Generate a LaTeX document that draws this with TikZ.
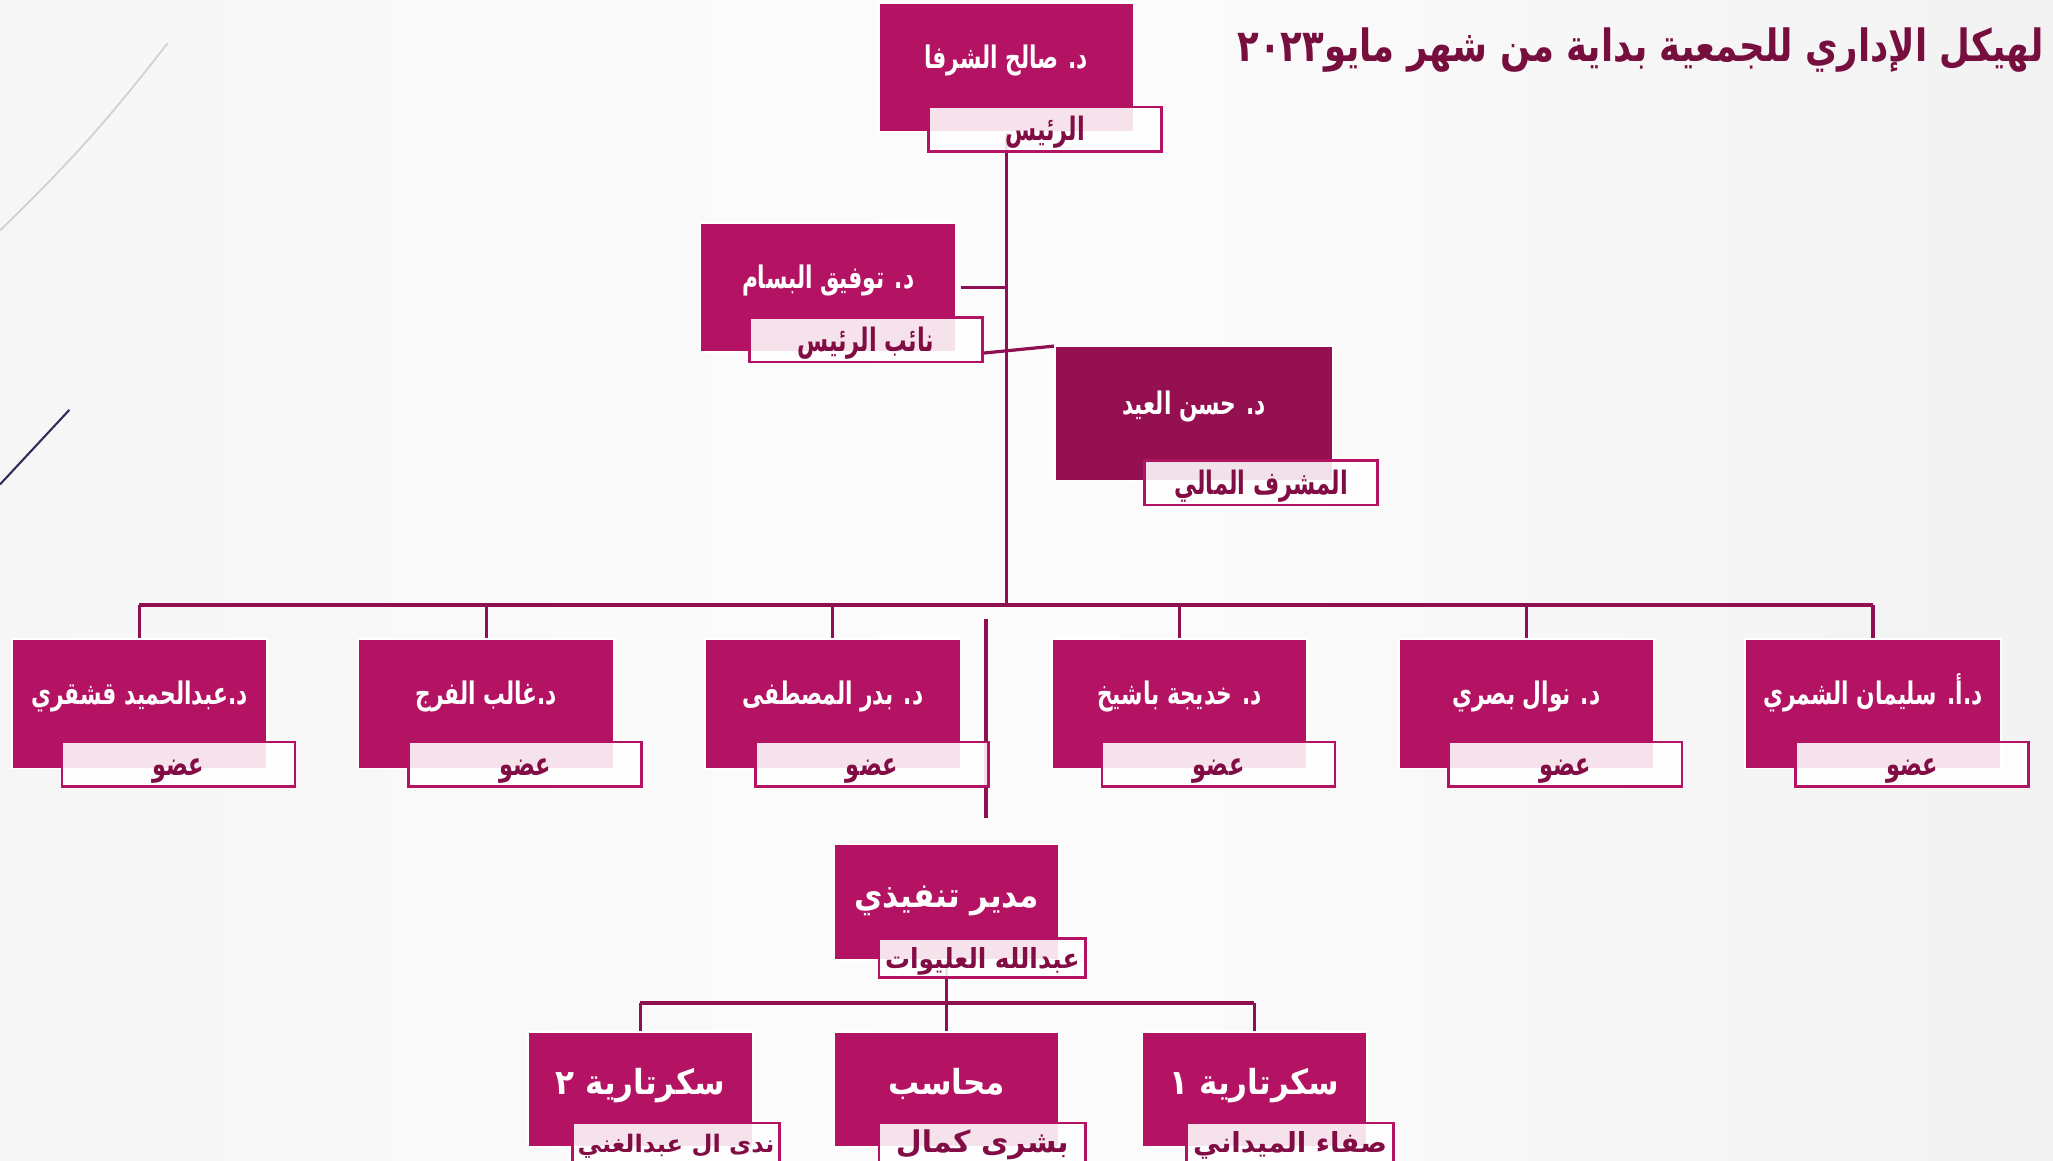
\documentclass[tikz,border=0pt]{standalone}
\usepackage{fontspec}
\newfontfamily\arabicfont[Script=Arabic]{DejaVu Sans}
\newfontfamily\arabicnarrow[Script=Arabic, FakeStretch=0.7]{DejaVu Sans}
\newfontfamily\arabicsemi[Script=Arabic, FakeStretch=0.9]{DejaVu Sans}
\newfontfamily\arabictitle[Script=Arabic, FakeStretch=0.8]{DejaVu Sans}
\TeXXeTstate=1
\usetikzlibrary{calc, backgrounds}

\definecolor{berry}{HTML}{B31362}
\definecolor{plum}{HTML}{941050}
\definecolor{wire}{HTML}{8E1052}
\definecolor{tagink}{HTML}{820C44}
\definecolor{titleink}{HTML}{760E3E}
\definecolor{navy}{RGB}{50,40,90}

\begin{document}
\begin{tikzpicture}[x=0.02cm, y=-0.02cm,
    box/.style={draw=white, line width=0.8pt, fill=berry, text=white, minimum width=3.9cm, minimum height=1.98cm, inner sep=0pt,
        text height=10pt, text depth=9pt, font=\arabicnarrow\bfseries\fontsize{13.5}{15}\selectfont},
    tag/.style={draw=berry, line width=1.1pt, fill=white, fill opacity=0.88, text opacity=1, text=tagink, minimum width=3.56cm,
        minimum height=0.68cm, inner sep=0pt, anchor=north west, text height=12.5pt, text depth=2.5pt,
        font=\arabicnarrow\bfseries\fontsize{14}{16}\selectfont},
    staffbox/.style={box, minimum width=3.44cm, minimum height=1.76cm, text height=11.5pt, text depth=7pt,
        font=\arabicsemi\bfseries\fontsize{15}{17}\selectfont},
    stafftag/.style={tag, minimum width=3.16cm, minimum height=0.6cm, text height=12pt, text depth=3pt,
        font=\arabicsemi\bfseries\fontsize{12}{14}\selectfont},
    wire/.style={draw=wire, line width=1.4pt}]

    % page and background
    \useasboundingbox (0,0) rectangle (1568,886);
    \begin{scope}[on background layer]
        \shade[left color=gray!7, right color=gray!10, middle color=gray!2] (0,0) rectangle (1568,886);
        \draw[gray!35, line width=0.8pt] (128,33) to[bend left=4] (0,176);
        \draw[navy, line width=0.9pt] (53,313) -- (0,370);
    \end{scope}

    % title
    \node[anchor=east, text=titleink, font=\arabictitle\bfseries\fontsize{19.3}{23}\selectfont] (title) at (1567,38)
        {\beginR لهيكل الإداري للجمعية بداية من شهر مايو\beginL٢٠٢٣\endL\endR};

    % board
    \node[box] (pres) at (768.5,51.5) {\beginR د. صالح الشرفا\endR};
    \node[tag] (pres-tag) at ($(pres.south west)+(38,-21)$) {\beginR الرئيس\endR};

    \node[box] (vice) at (632.5,219.5) {\beginR د. توفيق البسام\endR};
    \node[tag] (vice-tag) at ($(vice.south west)+(37,-28)$) {\beginR نائب الرئيس\endR};

    \node[box, fill=plum, minimum width=4.24cm, minimum height=2.06cm] (hassan) at (912,315.5) {\beginR د. حسن العيد\endR};
    \node[tag] (hassan-tag) at ($(hassan.south west)+(68,-17)$) {\beginR المشرف المالي\endR};

    % members
    \foreach \i/\who in {1/{د.عبدالحميد قشقري}, 2/{د.غالب الفرج}, 3/{د. بدر المصطفى},
                         4/{د. خديجة باشيخ}, 5/{د. نوال بصري}, 6/{د.أ. سليمان الشمري}}{
        \node[box] (m\i) at ({106.5+264.8*(\i-1)},537.5) {\beginR\who\endR};
        \node[tag] (m\i-tag) at ($(m\i.south west)+(38,-22)$) {\beginR عضو\endR};
    }

    % executive office
    \node[staffbox] (dir) at (723,689) {\beginR مدير تنفيذي\endR};
    \node[stafftag] (dir-tag) at ($(dir.south west)+(34,-18)$) {\beginR عبدالله العليوات\endR};

    \node[staffbox] (sec2) at (489,832) {\beginR سكرتارية ٢\endR};
    \node[stafftag, font=\arabicfont\bfseries\fontsize{10.5}{12}\selectfont] (sec2-tag) at ($(sec2.south west)+(34,-20)$) {\beginR ندى ال عبدالغني\endR};
    \node[staffbox] (acc) at (723,832) {\beginR محاسب\endR};
    \node[stafftag, font=\arabicfont\bfseries\fontsize{13}{15}\selectfont] (acc-tag) at ($(acc.south west)+(34,-20)$) {\beginR بشرى كمال\endR};
    \node[staffbox] (sec1) at (958,832) {\beginR سكرتارية ١\endR};
    \node[stafftag, font=\arabicfont\bfseries\fontsize{12}{14}\selectfont] (sec1-tag) at ($(sec1.south west)+(34,-20)$) {\beginR صفاء الميداني\endR};

    % connectors
    \coordinate (bus) at (0,462);
    \coordinate (sbus) at (0,766);
    \coordinate (stub-a) at (753,473);
    \coordinate (stub-b) at (753,625);
    \begin{scope}[on background layer]
        \draw[wire] (pres.south) -- (pres.south |- bus);
        \draw[wire] (m1.north |- bus) -- (m6.north |- bus);
        \foreach \i in {1,...,6}
            \draw[wire] (m\i.north |- bus) -- (m\i.north);
        \draw[wire] ([xshift=0.06cm]vice.east) -- (vice.east -| pres.south);
        \draw[wire] ([yshift=-0.2cm]vice-tag.east) -- ([yshift=-0.02cm]hassan.north west);
        \draw[wire] (stub-a) -- (stub-b);
        \draw[wire] (dir.south) -- (dir.south |- sbus);
        \draw[wire] (sec2.north |- sbus) -- (sec1.north |- sbus);
        \foreach \n in {sec2,acc,sec1}
            \draw[wire] (\n.north |- sbus) -- (\n.north);
    \end{scope}

\end{tikzpicture}
\end{document}
